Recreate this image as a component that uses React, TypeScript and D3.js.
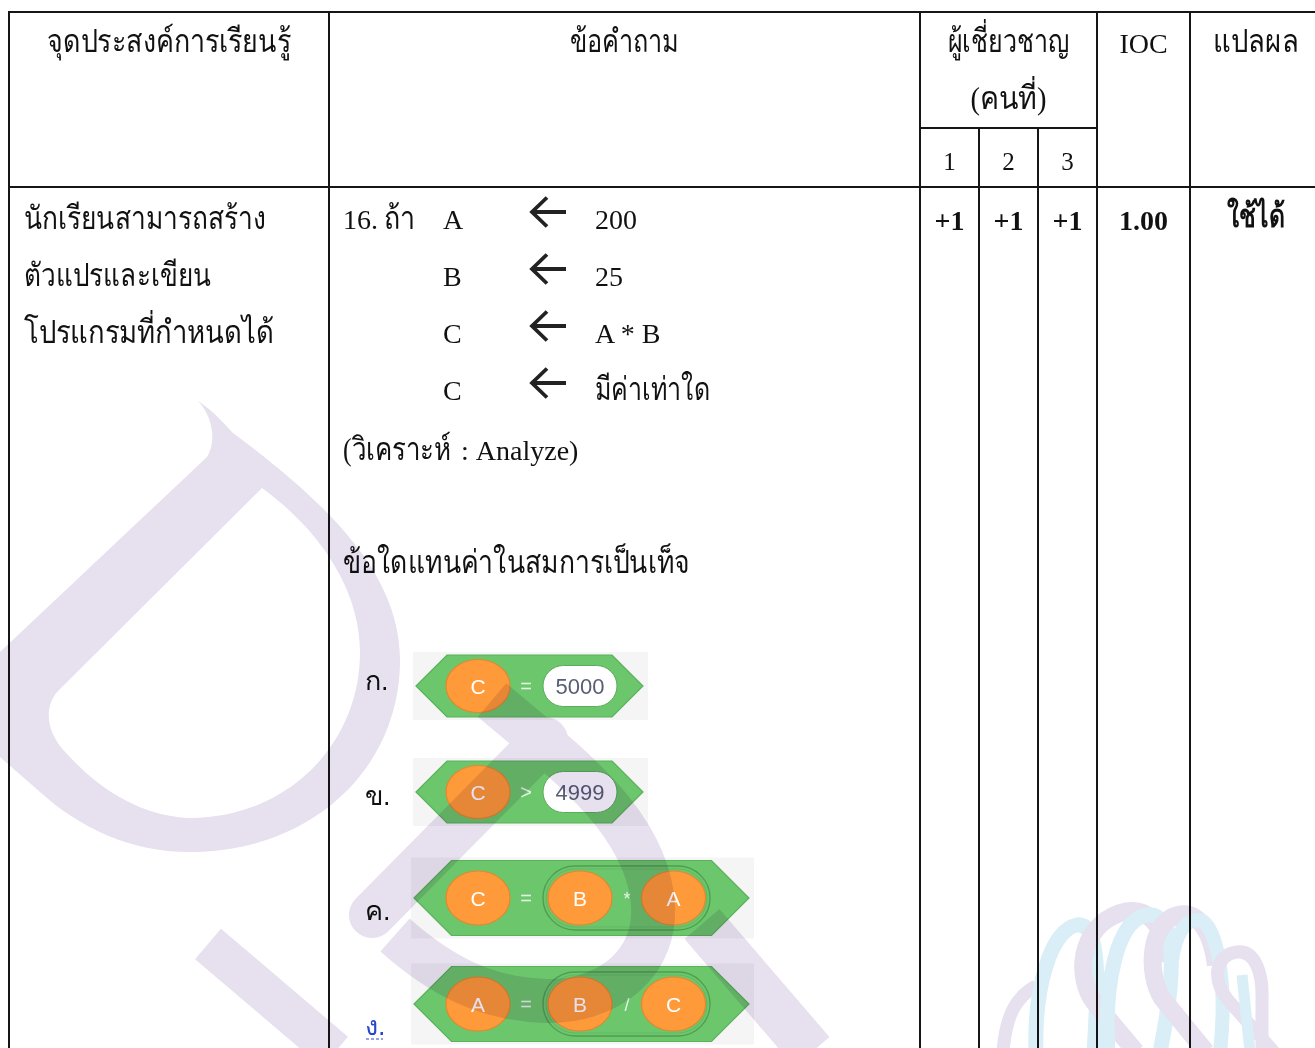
import React from "react";
import * as d3 from "d3";

// ---------- content ----------
const headerObjective = "จุดประสงค์การเรียนรู้";
const headerQuestion = "ข้อคำถาม";
const headerExperts = ["ผู้เชี่ยวชาญ", "(คนที่)"];
const headerIOC = "IOC";
const headerResult = "แปลผล";
const expertIds = ["1", "2", "3"];
const objectiveLines = ["นักเรียนสามารถสร้าง", "ตัวแปรและเขียน", "โปรแกรมที่กำหนดได้"];
const questionNumber = "16.";
const questionIf = "ถ้า";
const assignVars = ["A", "B", "C", "C"];
const assignValues = ["200", "25", "A * B", "มีค่าเท่าใด"];
const levelThai = "(วิเคราะห์";
const levelLatin = ": Analyze)";
const promptText = "ข้อใดแทนค่าในสมการเป็นเท็จ";
const choiceLabels = ["ก.", "ข.", "ค.", "ง."];
const choiceLeft = ["C", "C", "C", "A"];
const choiceOps = ["=", ">", "=", "="];
const choiceRight = [["5000"], ["4999"], ["B", "*", "A"], ["B", "/", "C"]];
const expertScores = ["+1", "+1", "+1"];
const iocValue = "1.00";
const resultValue = "ใช้ได้";

// ---------- layout ----------
const W = 1315;
const H = 1048;
const TOP = 12;
const HEAD_BOTTOM = 187;
const SUB_LINE = 128;
const X_LEFT = 9;
const X_Q = 329;
const X_EXP0 = 920;
const X_EXP1 = 1097;
const X_RES = 1190;
const SERIF = "'Liberation Serif', 'Times New Roman', serif";
const SANS = "'Liberation Sans', Arial, sans-serif";
const FS = 28;
const THAI_FS = 32;
const LINE = "#161616";

// widths that the condensed Thai face of the original takes on the page
const thaiWidth: Record<string, number> = {
  [headerObjective]: 244,
  [headerQuestion]: 109,
  [headerExperts[0]]: 122,
  [headerExperts[1]]: 76,
  [headerResult]: 86,
  [objectiveLines[0]]: 242,
  [objectiveLines[1]]: 187,
  [objectiveLines[2]]: 250,
  [questionIf]: 31,
  [assignValues[3]]: 115,
  [levelThai]: 108,
  [promptText]: 347,
  [resultValue]: 58,
};

const expScale = d3.scaleBand<string>().domain(expertIds).range([X_EXP0, X_EXP1]);
const rowScale = d3.scaleLinear().domain([0, 1]).range([229, 286]);
const choiceScale = d3.scaleLinear().domain([0, 1]).range([686, 792]);
const labelScale = d3.scaleLinear().domain([0, 1]).range([690, 805]);

const GREEN = "#6cc66c";
const GREEN_EDGE = "#5bb25b";
const ORANGE = "#ff9a3a";
const ORANGE_EDGE = "#e8862c";

function ThaiText({ x, y, t, anchor, bold, fill }: { x: number; y: number; t: string; anchor?: string; bold?: boolean; fill?: string }) {
  const w = thaiWidth[t];
  return (
    <text
      x={x}
      y={y}
      textAnchor={anchor || "start"}
      fontSize={THAI_FS}
      fontWeight={bold ? "bold" : "normal"}
      fill={fill || "#111"}
      textLength={w}
      lengthAdjust="spacingAndGlyphs"
    >
      {t}
    </text>
  );
}

function Reporter({ cx, cy, label, nested }: { cx: number; cy: number; label: string; nested: boolean }) {
  const rx = 32;
  const ry = nested ? 27 : 26.5;
  return (
    <g>
      <ellipse cx={cx} cy={cy} rx={rx} ry={ry} fill={ORANGE} stroke={ORANGE_EDGE} strokeWidth={1.2} />
      <text x={cx} y={cy + 7.5} textAnchor="middle" fontFamily={SANS} fontSize={21} fill="#ffffff">
        {label}
      </text>
    </g>
  );
}

function Block({ i }: { i: number }) {
  const cy = choiceScale(i);
  const right = choiceRight[i];
  const nested = right.length > 1;
  const h = nested ? 75 : 62;
  const c0 = 478;
  const tip = c0 - (nested ? 64 : 62);
  const pillW = 74;
  const rt = nested ? c0 + 271 : c0 + 65 + pillW + 26;
  const hexPath = d3.path();
  hexPath.moveTo(tip, cy);
  hexPath.lineTo(tip + h / 2, cy - h / 2);
  hexPath.lineTo(rt - h / 2, cy - h / 2);
  hexPath.lineTo(rt, cy);
  hexPath.lineTo(rt - h / 2, cy + h / 2);
  hexPath.lineTo(tip + h / 2, cy + h / 2);
  hexPath.closePath();
  return (
    <g>
      <rect x={tip - 3} y={cy - h / 2 - 3} width={rt - tip + 8} height={h + 6} fill="#f5f5f5" />
      <path d={hexPath.toString()} fill={GREEN} stroke={GREEN_EDGE} strokeWidth={1.2} />
      <Reporter cx={c0} cy={cy} label={choiceLeft[i]} nested={nested} />
      <text x={c0 + 48} y={cy + 7} textAnchor="middle" fontFamily={SANS} fontSize={20} fill="#e6f4e6">
        {choiceOps[i]}
      </text>
      {!nested && (
        <g>
          <rect x={c0 + 65} y={cy - 20.5} width={pillW} height={41} rx={20.5} fill="#ffffff" stroke="#5aad5a" strokeWidth={1} />
          <text x={c0 + 65 + pillW / 2} y={cy + 8} textAnchor="middle" fontFamily={SANS} fontSize={22} fill="#575e75">
            {right[0]}
          </text>
        </g>
      )}
      {nested && (
        <g>
          <rect x={c0 + 65} y={cy - 32} width={167} height={64} rx={32} fill={GREEN} stroke="#4f9f4f" strokeWidth={1.4} />
          <rect x={c0 + 68} y={cy - 29} width={161} height={58} rx={29} fill="none" stroke="#63b863" strokeWidth={1} />
          <Reporter cx={c0 + 102} cy={cy} label={right[0]} nested />
          <text x={c0 + 149} y={cy + 7} textAnchor="middle" fontFamily={SANS} fontSize={18} fill="#e6f4e6">
            {right[1]}
          </text>
          <Reporter cx={c0 + 195.5} cy={cy} label={right[2]} nested />
        </g>
      )}
    </g>
  );
}

function Arrow({ y }: { y: number }) {
  const p = d3.path();
  p.moveTo(566, y);
  p.lineTo(532, y);
  p.moveTo(547, y - 14.5);
  p.lineTo(532, y);
  p.lineTo(547, y + 14.5);
  return <path d={p.toString()} fill="none" stroke="#222" strokeWidth={3.8} strokeLinecap="butt" strokeLinejoin="miter" />;
}

function Watermark() {
  const d1 =
    "M198,401 C215,412 225,425 233,433 C330,505 400,575 400,660 C400,770 310,852 190,852 C130,852 80,828 40,792 L0,757 L0,652 L207,457 C216,443 214,418 198,401 Z " +
    "M262,488 L58,691 C44,706 45,732 67,754 C100,790 140,815 187,818 C280,820 360,750 360,652 C360,590 320,530 262,488 Z";
  const bowl = "M492,700 C560,758 640,815 652,895 C662,965 605,1003 545,1001 C485,999 440,975 395,935";
  const stem = "M545,740 L372,915";
  const tail1 = "M208,944 L335,1052";
  const tail2 = "M702,924 L812,1052";
  const purple = "#e6e0ef";
  const blue = "#d9eef7";
  return (
    <g style={{ mixBlendMode: "multiply" }}>
      <path d={d1} fill={purple} fillRule="evenodd" />
      <path d={bowl} fill="none" stroke={purple} strokeWidth={44} strokeLinecap="butt" />
      <path d={stem} fill="none" stroke={purple} strokeWidth={46} strokeLinecap="round" />
      <path d={tail1} fill="none" stroke={purple} strokeWidth={40} />
      <path d={tail2} fill="none" stroke={purple} strokeWidth={46} />
      {/* ribbon logo bottom right */}
      <g fill="none">
        <path d="M1003,1052 C1006,1012 1018,996 1036,986" stroke={purple} strokeWidth={13} />
        <path d="M1036,1052 C1034,990 1050,930 1077,925 C1097,922 1100,965 1094,1052" stroke={blue} strokeWidth={15} />
        <path d="M1136,1052 L1094,1002 C1076,978 1078,928 1120,913 C1150,904 1166,930 1168,962" stroke={purple} strokeWidth={18} />
        <path d="M1108,1052 C1104,990 1115,920 1147,915 C1172,912 1180,955 1160,1052" stroke={blue} strokeWidth={15} />
        <path d="M1206,1052 L1162,998 C1146,972 1150,922 1178,915 C1200,910 1212,935 1216,965" stroke={purple} strokeWidth={18} />
        <path d="M1172,960 C1176,932 1186,920 1198,920 C1216,920 1228,980 1220,1052" stroke={blue} strokeWidth={14} />
        <path d="M1274,1052 L1228,1000 C1212,980 1214,955 1237,952 C1256,950 1263,975 1262,1000 L1262,1052" stroke={purple} strokeWidth={13} />
        <path d="M1242,975 L1250,1052" stroke={blue} strokeWidth={11} />
      </g>
    </g>
  );
}

export default function App() {
  const vLines = [
    { x: X_LEFT, y1: TOP },
    { x: X_Q, y1: TOP },
    { x: X_EXP0, y1: TOP },
    ...expertIds.slice(1).map((id) => ({ x: expScale(id) as number, y1: SUB_LINE })),
    { x: X_EXP1, y1: TOP },
    { x: X_RES, y1: TOP },
  ];
  const expCenter = (id: string) => (expScale(id) as number) + expScale.bandwidth() / 2;
  return (
    <svg
      width={W}
      height={H}
      viewBox={`0 0 ${W} ${H}`}
      style={{ position: "absolute", left: 0, top: 0, background: "#ffffff" }}
    >
      <rect x={0} y={0} width={W} height={H} fill="#ffffff" />

      {/* header texts */}
      <g fontFamily={SERIF} fontSize={FS} fill="#111">
        <ThaiText x={(X_LEFT + X_Q) / 2} y={52} t={headerObjective} anchor="middle" />
        <ThaiText x={(X_Q + X_EXP0) / 2} y={52} t={headerQuestion} anchor="middle" />
        <ThaiText x={(X_EXP0 + X_EXP1) / 2} y={52} t={headerExperts[0]} anchor="middle" />
        <ThaiText x={(X_EXP0 + X_EXP1) / 2} y={109} t={headerExperts[1]} anchor="middle" />
        <text x={(X_EXP1 + X_RES) / 2} y={53} textAnchor="middle">{headerIOC}</text>
        <ThaiText x={1256} y={52} t={headerResult} anchor="middle" />
        {expertIds.map((id) => (
          <text key={id} x={expCenter(id)} y={170} textAnchor="middle" fontSize={25}>{id}</text>
        ))}
      </g>

      {/* body: objective */}
      <g fontFamily={SERIF} fill="#111">
        {objectiveLines.map((t, i) => (
          <ThaiText key={i} x={24} y={rowScale(i)} t={t} />
        ))}
      </g>

      {/* body: question */}
      <g fontFamily={SERIF} fontSize={FS} fill="#111">
        <text x={343} y={rowScale(0)}>{questionNumber}</text>
        <ThaiText x={384} y={rowScale(0)} t={questionIf} />
        {assignVars.map((v, i) => (
          <g key={i}>
            <text x={443} y={rowScale(i)}>{v}</text>
            <Arrow y={rowScale(i) - 17} />
            {thaiWidth[assignValues[i]] ? (
              <ThaiText x={595} y={rowScale(i)} t={assignValues[i]} />
            ) : (
              <text x={595} y={rowScale(i)}>{assignValues[i]}</text>
            )}
          </g>
        ))}
        <text x={343} y={460}>
          <tspan fontSize={THAI_FS} textLength={thaiWidth[levelThai]} lengthAdjust="spacingAndGlyphs">{levelThai}</tspan>
          <tspan x={461} fontSize={FS}>{levelLatin}</tspan>
        </text>
        <ThaiText x={343} y={573} t={promptText} />
        {choiceLabels.map((l, i) => (
          <text key={l} x={365} y={labelScale(i)} fontFamily={SANS} fontSize={27} fill={i === 3 ? "#2a44cc" : "#111"}>{l}</text>
        ))}
        <line x1={366} x2={383} y1={labelScale(3) + 4} y2={labelScale(3) + 4} stroke="#2a44cc" strokeWidth={1.2} strokeDasharray="3,2" />
      </g>

      {choiceLabels.map((_, i) => (
        <Block key={i} i={i} />
      ))}

      {/* body: scores */}
      <g fontFamily={SERIF} fontSize={FS} fontWeight="bold" fill="#111">
        {expertIds.map((id, i) => (
          <text key={id} x={expCenter(id)} y={230} textAnchor="middle">{expertScores[i]}</text>
        ))}
        <text x={(X_EXP1 + X_RES) / 2} y={230} textAnchor="middle">{iocValue}</text>
        <ThaiText x={1256} y={227} t={resultValue} anchor="middle" bold />
      </g>

      {/* grid */}
      <g stroke={LINE} strokeWidth={2}>
        <line x1={X_LEFT - 1} x2={W} y1={TOP} y2={TOP} />
        <line x1={X_LEFT - 1} x2={W} y1={HEAD_BOTTOM} y2={HEAD_BOTTOM} />
        <line x1={X_EXP0} x2={X_EXP1} y1={SUB_LINE} y2={SUB_LINE} />
        {vLines.map((l, i) => (
          <line key={i} x1={l.x} x2={l.x} y1={l.y1} y2={H} />
        ))}
      </g>

      <Watermark />
    </svg>
  );
}
